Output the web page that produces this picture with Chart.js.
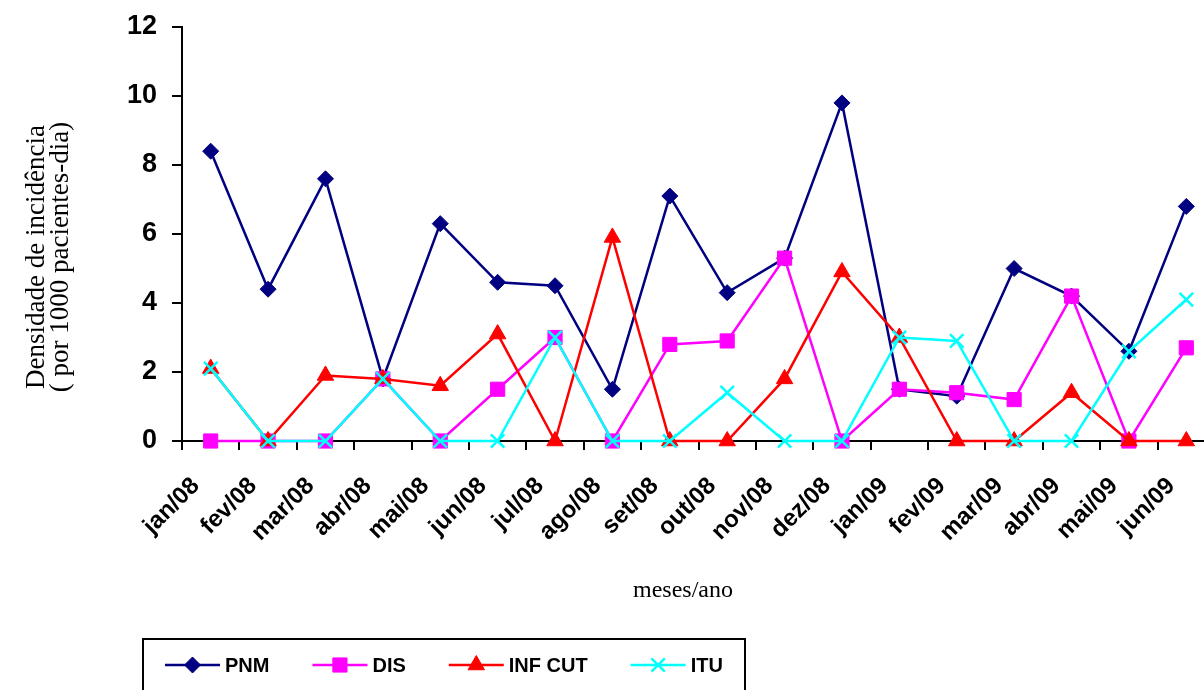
<!DOCTYPE html>
<html>
<head>
<meta charset="utf-8">
<script src="https://cdn.jsdelivr.net/npm/chart.js@4.4.1/dist/chart.umd.min.js"></script>
<style>
  html, body { margin: 0; padding: 0; background: #fff; width: 1204px; height: 690px; overflow: hidden; }
  canvas { display: block; }
</style>
</head>
<body>
<canvas id="chart" width="1240" height="690"></canvas>
<script>
// Monthly incidence density per 1000 patient-days
const months = ['jan/08', 'fev/08', 'mar/08', 'abr/08', 'mai/08', 'jun/08', 'jul/08', 'ago/08', 'set/08',
                'out/08', 'nov/08', 'dez/08', 'jan/09', 'fev/09', 'mar/09', 'abr/09', 'mai/09', 'jun/09'];
const pnm    = [8.4, 4.4, 7.6, 1.8, 6.3, 4.6, 4.5, 1.5, 7.1, 4.3, 5.3, 9.8, 1.5, 1.3, 5.0, 4.2, 2.6, 6.8];
const dis    = [0, 0, 0, 1.8, 0, 1.5, 3.0, 0, 2.8, 2.9, 5.3, 0, 1.5, 1.4, 1.2, 4.2, 0, 2.7];
const infCut = [2.1, 0, 1.9, 1.8, 1.6, 3.1, 0, 5.9, 0, 0, 1.8, 4.9, 3.0, 0, 0, 1.4, 0, 0];
const itu    = [2.1, 0, 0, 1.8, 0, 0, 3.0, 0, 0, 1.4, 0, 0, 3.0, 2.9, 0, 0, 2.6, 4.1];
const yTicks = [0, 2, 4, 6, 8, 10, 12];

const yTitle = ['Densidade de incidência', '( por 1000 pacientes-dia)'];
const xTitle = 'meses/ano';

const SANS = '"Liberation Sans", Arial, sans-serif';
const SERIF = '"Liberation Serif", "Times New Roman", serif';

function series(label, data, color, style, radius, order) {
  return {
    label, data,
    borderColor: color,
    backgroundColor: color,
    borderWidth: 2.5,
    pointStyle: style,
    pointRadius: radius,
    pointHoverRadius: radius,
    pointBorderWidth: style === 'crossRot' ? 2.5 : 1,
    pointBackgroundColor: color,
    pointBorderColor: color,
    tension: 0,
    clip: false,
    order
  };
}

// Axis captions drawn beside the plot
const captions = {
  id: 'captions',
  afterDraw(chart) {
    const ctx = chart.ctx;
    ctx.save();
    ctx.fillStyle = '#000';
    ctx.font = '27px ' + SERIF;
    ctx.textAlign = 'center';
    ctx.textBaseline = 'alphabetic';
    ctx.translate(44, 257);
    ctx.rotate(-Math.PI / 2);
    ctx.fillText(yTitle[0], 0, 0);
    ctx.fillText(yTitle[1], 0, 24);
    ctx.restore();

    ctx.save();
    ctx.fillStyle = '#000';
    ctx.font = '24px ' + SERIF;
    ctx.textAlign = 'center';
    ctx.textBaseline = 'alphabetic';
    ctx.fillText(xTitle, 683, 597);
    ctx.restore();
  }
};

// Framed legend with line-and-marker samples
const boxedLegend = {
  id: 'boxedLegend',
  afterDraw(chart) {
    const ctx = chart.ctx;
    const left = 143, top = 639, width = 602, height = 70;
    const cy = 665, lineLen = 55, textGap = 5, itemGap = 43;
    ctx.save();
    ctx.strokeStyle = '#000';
    ctx.lineWidth = 2;
    ctx.strokeRect(left, top, width, height);
    ctx.font = 'bold 20px ' + SANS;
    ctx.textBaseline = 'middle';
    ctx.textAlign = 'left';
    let x = 165;
    chart.data.datasets.forEach(ds => {
      ctx.strokeStyle = ds.borderColor;
      ctx.lineWidth = ds.borderWidth;
      ctx.beginPath();
      ctx.moveTo(x, cy);
      ctx.lineTo(x + lineLen, cy);
      ctx.stroke();
      ctx.fillStyle = ds.pointBackgroundColor;
      ctx.strokeStyle = ds.pointBorderColor;
      ctx.lineWidth = ds.pointBorderWidth;
      Chart.helpers.drawPoint(ctx, { pointStyle: ds.pointStyle, radius: ds.pointRadius, rotation: 0, borderWidth: ds.pointBorderWidth }, x + lineLen / 2, cy);
      ctx.fillStyle = '#000';
      const tx = x + lineLen + textGap;
      ctx.fillText(ds.label, tx, cy + 1);
      x = tx + ctx.measureText(ds.label).width + itemGap;
    });
    ctx.restore();
  }
};

new Chart(document.getElementById('chart'), {
  type: 'line',
  data: {
    labels: months,
    datasets: [
      series('PNM', pnm, '#000080', 'rectRot', 8, 4),
      series('DIS', dis, '#FF00FF', 'rect', 10, 3),
      series('INF CUT', infCut, '#FF0000', 'triangle', 9.5, 2),
      series('ITU', itu, '#00FFFF', 'crossRot', 9.5, 1)
    ]
  },
  options: {
    responsive: false,
    animation: false,
    devicePixelRatio: 1,
    layout: { padding: { top: 27, right: 25, bottom: 0, left: 0 } },
    plugins: {
      legend: { display: false },
      tooltip: { enabled: false }
    },
    scales: {
      x: {
        type: 'category',
        offset: true,
        afterFit(scale) { scale.height = 249; },
        border: { display: true, color: '#000', width: 2 },
        grid: { offset: true, drawOnChartArea: false, drawTicks: true, tickLength: 9, color: '#000', lineWidth: 2 },
        ticks: {
          color: '#000',
          font: { family: SANS, size: 24, weight: 'bold' },
          maxRotation: 45, minRotation: 45,
          autoSkip: false,
          padding: 22,
          labelOffset: -15
        }
      },
      y: {
        min: 0, max: 12,
        afterFit(scale) {
          scale.width = 182;
          scale.paddingTop = 0;
          scale.paddingBottom = 0;
        },
        afterBuildTicks(scale) { scale.ticks = yTicks.map(v => ({ value: v })); },
        border: { display: true, color: '#000', width: 2 },
        grid: { drawOnChartArea: false, drawTicks: true, tickLength: 10, color: '#000', lineWidth: 2 },
        ticks: {
          color: '#000',
          font: { family: SANS, size: 27, weight: 'bold' },
          padding: 15
        }
      }
    }
  },
  plugins: [captions, boxedLegend]
});
</script>
</body>
</html>
